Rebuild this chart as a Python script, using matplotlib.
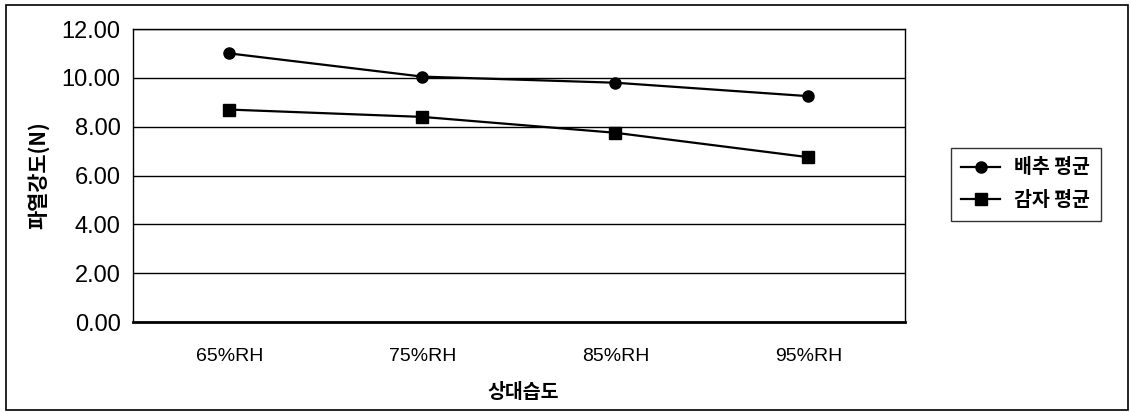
import matplotlib
matplotlib.use('Agg')
import matplotlib.pyplot as plt
from matplotlib.patches import Rectangle

categories = ['65%RH', '75%RH', '85%RH', '95%RH']
cabbage = [11.0, 10.05, 9.8, 9.25]
potato = [8.7, 8.4, 7.75, 6.75]
yticks = [0, 2, 4, 6, 8, 10, 12]

KR = ['Noto Sans CJK KR', 'DejaVu Sans']

fig = plt.figure(figsize=(11.31, 4.12), dpi=100)
ax = fig.add_axes([0.1176, 0.2184, 0.6824, 0.7112])

x = list(range(len(categories)))
ax.plot(x, cabbage, color='black', lw=1.6, marker='o', ms=8, label='배추 평균')
ax.plot(x, potato, color='black', lw=1.6, marker='s', ms=8, label='감자 평균')

ax.set_xlim(-0.5, len(categories) - 0.5)
ax.set_ylim(0, 12)
ax.set_yticks(yticks)
ax.set_yticklabels([f'{v:.2f}' for v in yticks], fontsize=17, family='Liberation Sans')
ax.set_xticks(x)
ax.set_xticklabels(categories, fontsize=14, family='Liberation Sans')
ax.tick_params(axis='y', length=0, pad=9)
ax.tick_params(axis='x', length=0, pad=19)
ax.grid(axis='y', color='black', lw=1)
ax.set_axisbelow(True)
for side in ['left', 'right', 'top']:
    ax.spines[side].set_linewidth(1)
ax.spines['bottom'].set_linewidth(2)

fig.text(0.034, 0.575, '파열강도(N)', rotation=90, ha='center', va='center',
         fontsize=15, fontweight='bold', family=KR)
fig.text(0.463, 0.048, '상대습도', ha='center', va='center',
         fontsize=14, fontweight='bold', family=KR)

leg = ax.legend(loc='center left', bbox_to_anchor=(1.047, 0.47), frameon=True,
                fancybox=False, edgecolor='black', prop={'family': KR, 'size': 14, 'weight': 'bold'},
                handlelength=2.0, borderpad=0.55, labelspacing=0.7, handletextpad=0.7)
leg.get_frame().set_linewidth(1)

fig.patches.append(Rectangle((6 / 1131, 2 / 412), 1122 / 1131, 405 / 412,
                             transform=fig.transFigure, fill=False, edgecolor='black', lw=1.2))

fig.savefig('out.png', dpi=100)
